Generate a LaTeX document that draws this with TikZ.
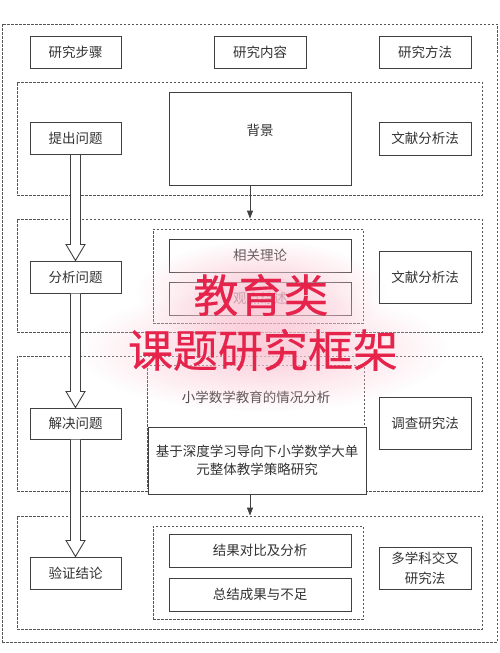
\documentclass[tikz,border=0pt]{standalone}
\usepackage{fontspec}
\setmainfont{Noto Sans CJK SC}
\newfontfamily\wmfont{Noto Sans CJK SC}[FakeBold=0.4]
\usetikzlibrary{arrows.meta,calc,fadings}
\definecolor{linec}{HTML}{404040}
\definecolor{dashc}{HTML}{555555}
\definecolor{txtc}{HTML}{333333}
\definecolor{wmred}{HTML}{E5234B}
\definecolor{glowc}{HTML}{F68CA8}
\tikzfading[name=glowfade, inner color=transparent!0, outer color=transparent!100]
\begin{document}
\begin{tikzpicture}[x=1pt,y=-1pt,
  box/.style={draw=linec, line width=1pt, fill=white, minimum width=91pt, minimum height=32pt,
    inner sep=0pt, text=txtc, font=\fontsize{13.5}{18}\selectfont, align=center},
  wide/.style={box, minimum width=182pt, minimum height=33pt},
  dbox/.style={draw=dashc, line width=0.8pt, dash pattern=on 2.5pt off 1.5pt, inner sep=0pt},
  txt/.style={text=txtc, font=\fontsize{13.5}{18}\selectfont, align=center, inner sep=0pt},
  arr/.style={draw=linec, line width=0.9pt, -{Triangle[length=8pt,width=6pt]}},
  harrow/.style={draw=linec, line width=0.9pt, fill=white, line join=miter},
  wm/.style={text=wmred, font=\wmfont\fontsize{45}{50}\selectfont, inner sep=0pt},
  glow/.style={fill=glowc, path fading=glowfade}
]
\useasboundingbox (0,0) rectangle (500,653);
\fill[white] (0,0) rectangle (500,653);

% outer frame and sections
\node[dbox, minimum width=495pt, minimum height=618pt] (outer) at (249.5,333) {};
\node[dbox, minimum width=465pt, minimum height=113pt] (s1) at (249.5,138.5) {};
\node[dbox, minimum width=465pt, minimum height=113pt] (s2) at (249.5,275.5) {};
\node[dbox, minimum width=465pt, minimum height=135pt] (s3) at (249.5,423.5) {};
\node[dbox, minimum width=465pt, minimum height=113pt] (s4) at (249.5,572.5) {};

% header row
\node[box] (t1) at (75.5,52) {研究步骤};
\node[box, minimum width=92pt] (t2) at (260,52) {研究内容};
\node[box, minimum width=92pt] (t3) at (425,52) {研究方法};

% section 1
\node[box] (q1) at (75.5,138.5) {提出问题};
\node[box, minimum width=182pt, minimum height=93pt] (bg) at (260,138.5) {};
\node[txt] (bgt) at (260,130) {背景};
\node[box, minimum width=92pt, minimum height=33pt] (m1) at (425,138.5) {文献分析法};

% section 2
\node[dbox, minimum width=210pt, minimum height=94pt] (i2) at (258,276) {};
\node[wide] (r1) at (260,255.5) {相关理论};
\node[wide] (r2) at (260,298.5) {观点综述};
\node[box] (q2) at (75.5,277) {分析问题};
\node[box, minimum width=92pt, minimum height=52pt] (m2) at (425,277) {文献分析法};

% section 3
\node[dbox, minimum width=217pt, minimum height=123pt] (i3) at (255.5,426.5) {};
\node[txt] (r3) at (256,397) {小学数学教育的情况分析};
\node[box, minimum width=218pt, minimum height=67pt, font=\fontsize{13.5}{18.5}\selectfont] (r4) at (257,460.5) {基于深度学习导向下小学数学大单\\元整体教学策略研究};
\node[box, minimum height=31pt] (q3) at (75.5,423.5) {解决问题};
\node[box, minimum width=92pt, minimum height=52pt] (m3) at (425,423) {调查研究法};

% section 4
\node[dbox, minimum width=210pt, minimum height=93pt] (i4) at (258,572.5) {};
\node[wide] (r5) at (260,550.5) {结果对比及分析};
\node[wide] (r6) at (260,594.5) {总结成果与不足};
\node[box] (q4) at (75.5,573) {验证结论};
\node[box, minimum width=92pt, minimum height=42pt, font=\fontsize{13.5}{20}\selectfont] (m4) at (425,568) {多学科交叉\\研究法};

% thin arrows
\draw[arr] ([xshift=-10pt]bg.south) -- ([xshift=-10pt]bg.south |- s2.north);
\draw[arr] ([xshift=-7pt]r4.south) -- ([xshift=-7pt]r4.south |- s4.north);

% hollow step arrows
\foreach \a/\b in {q1/q2, q2/q3, q3/q4}{
  \draw[harrow] let \p1=(\a.south), \p2=(\b.north) in
    (\x1-5pt,\y1) -- (\x1-5pt,\y2+16pt) -- (\x1-9.5pt,\y2+16pt) -- (\x1,\y2)
    -- (\x1+9.5pt,\y2+16pt) -- (\x1+5pt,\y2+16pt) -- (\x1+5pt,\y1);
}

% watermark glow
\fill[white, path fading=glowfade, opacity=0.7] (263,350) ellipse (185 and 62);
\fill[white, path fading=glowfade, opacity=0.7] (261,292) ellipse (125 and 52);
\fill[glow, opacity=0.45] (263,350) ellipse (185 and 62);
\fill[glow, opacity=0.45] (261,292) ellipse (125 and 52);
\node[wm] (wm1) at (261,295) {教育类};
\node[wm] (wm2) at (263,350) {课题研究框架};
\end{tikzpicture}
\end{document}
